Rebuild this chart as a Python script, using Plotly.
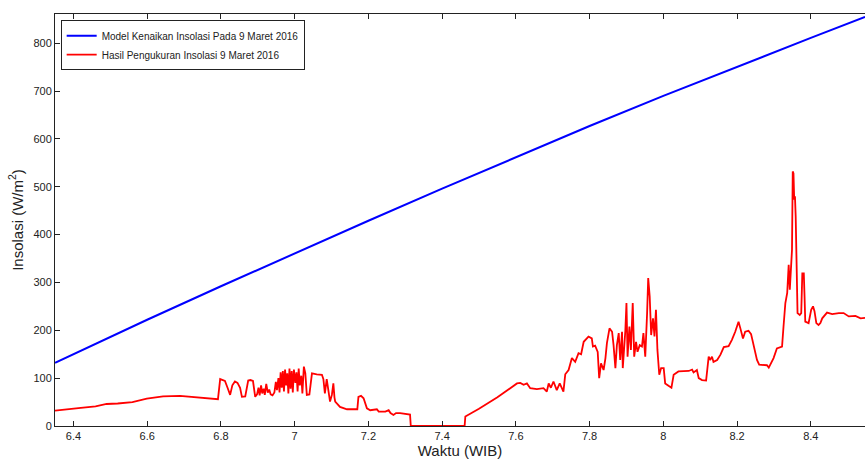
import plotly.graph_objects as go

# Model curve (blue)
model_t = [6.35, 6.60, 6.80, 7.00, 7.20, 7.40, 7.60, 7.80, 8.00, 8.20, 8.40, 8.547]
model_v = [132, 222, 292, 361, 429, 496, 562, 627, 690, 751, 811, 855]

# Measured insolation (red)
meas_t = [6.350, 6.380, 6.420, 6.460, 6.490, 6.520, 6.560, 6.599, 6.643, 6.689, 6.720, 6.752, 6.780, 6.792,
          6.798, 6.805, 6.811, 6.818, 6.825, 6.831, 6.838, 6.845, 6.852, 6.857, 6.866, 6.874, 6.880, 6.887,
          6.893, 6.898, 6.902, 6.905, 6.909, 6.912, 6.916, 6.919, 6.923, 6.927, 6.931, 6.935, 6.940, 6.945,
          6.949, 6.952, 6.956, 6.959, 6.962, 6.965, 6.968, 6.971, 6.974, 6.977, 6.980, 6.983, 6.986, 6.989,
          6.992, 6.995, 6.998, 7.002, 7.005, 7.008, 7.011, 7.014, 7.018, 7.021, 7.025, 7.029, 7.033, 7.040,
          7.047, 7.060, 7.074, 7.078, 7.082, 7.087, 7.092, 7.096, 7.101, 7.105, 7.108, 7.110, 7.123, 7.142,
          7.157, 7.170, 7.173, 7.180, 7.187, 7.196, 7.205, 7.214, 7.223, 7.228, 7.232, 7.246, 7.255, 7.260,
          7.268, 7.275, 7.286, 7.293, 7.300, 7.313, 7.315, 7.461, 7.463, 7.500, 7.550, 7.603, 7.612, 7.621,
          7.630, 7.639, 7.657, 7.675, 7.684, 7.689, 7.695, 7.702, 7.711, 7.719, 7.729, 7.734, 7.743, 7.752,
          7.761, 7.770, 7.777, 7.784, 7.797, 7.806, 7.809, 7.815, 7.822, 7.826, 7.831, 7.838, 7.843, 7.847,
          7.854, 7.861, 7.865, 7.870, 7.874, 7.879, 7.883, 7.888, 7.890, 7.897, 7.900, 7.903, 7.908, 7.912,
          7.917, 7.921, 7.926, 7.930, 7.936, 7.942, 7.946, 7.951, 7.956, 7.959, 7.963, 7.967, 7.972, 7.976,
          7.980, 7.984, 7.989, 7.994, 8.001, 8.005, 8.014, 8.022, 8.028, 8.041, 8.069, 8.078, 8.082, 8.091,
          8.096, 8.105, 8.116, 8.123, 8.127, 8.132, 8.136, 8.146, 8.155, 8.164, 8.177, 8.186, 8.195, 8.204,
          8.209, 8.216, 8.222, 8.231, 8.238, 8.245, 8.254, 8.260, 8.272, 8.281, 8.286, 8.292, 8.299, 8.308,
          8.322, 8.326, 8.331, 8.336, 8.340, 8.343, 8.346, 8.349, 8.351, 8.353, 8.355, 8.357, 8.359, 8.361,
          8.364, 8.370, 8.374, 8.377, 8.381, 8.383, 8.385, 8.394, 8.401, 8.406, 8.410, 8.415, 8.421, 8.426,
          8.431, 8.444, 8.458, 8.476, 8.489, 8.503, 8.521, 8.535, 8.547]
meas_v = [32, 35, 38, 41, 46, 47, 50, 57, 62, 63, 61, 59, 56, 56,
          98, 96, 94, 80, 65, 85, 93, 90, 80, 61, 62, 95, 96, 94,
          61, 66, 80, 64, 85, 68, 78, 65, 88, 70, 76, 66, 64, 70,
          92, 75, 100, 70, 112, 80, 115, 72, 118, 85, 110, 68, 120, 78,
          115, 70, 118, 90, 112, 72, 120, 85, 105, 68, 124, 110, 65, 66,
          110, 108, 107, 98, 68, 98, 70, 51, 65, 89, 60, 51, 40, 35,
          35, 35, 61, 63, 58, 37, 33, 34, 35, 30, 30, 30, 33, 27,
          23, 27, 27, 26, 25, 24, 0, 0, 20, 36, 60, 89, 90, 86,
          89, 79, 77, 79, 72, 89, 80, 93, 75, 89, 72, 108, 117, 142,
          134, 152, 150, 176, 187, 183, 166, 168, 155, 100, 131, 117, 142, 173,
          204, 197, 169, 121, 169, 194, 138, 197, 121, 200, 257, 145, 208, 159,
          257, 145, 176, 155, 169, 166, 194, 145, 236, 309, 271, 190, 225, 187,
          243, 159, 107, 121, 121, 89, 84, 80, 107, 114, 115, 118, 112, 117,
          100, 96, 95, 145, 138, 145, 134, 138, 149, 165, 167, 180, 197, 218,
          204, 183, 197, 199, 192, 166, 138, 128, 128, 127, 122, 130, 142, 162,
          166, 208, 257, 278, 337, 285, 333, 368, 532, 528, 473, 480, 438, 375,
          236, 232, 236, 319, 319, 271, 218, 215, 243, 250, 240, 215, 211, 215,
          225, 237, 234, 236, 236, 229, 230, 225, 226]

x_ticks = [6.4, 6.6, 6.8, 7.0, 7.2, 7.4, 7.6, 7.8, 8.0, 8.2, 8.4]
x_ticklabels = ["6.4", "6.6", "6.8", "7", "7.2", "7.4", "7.6", "7.8", "8", "8.2", "8.4"]
y_ticks = [0, 100, 200, 300, 400, 500, 600, 700, 800]

fig = go.Figure()
fig.add_trace(go.Scatter(x=model_t, y=model_v, mode="lines",
                         line=dict(color="#0000ff", width=2),
                         name="Model Kenaikan Insolasi Pada 9 Maret 2016"))
fig.add_trace(go.Scatter(x=meas_t, y=meas_v, mode="lines",
                         line=dict(color="#ff0000", width=1.8),
                         name="Hasil Pengukuran Insolasi 9 Maret 2016"))

font_family = "Liberation Sans, Arial, sans-serif"
fig.update_layout(
    width=865, height=459,
    margin=dict(l=55, r=0, t=14, b=33),
    paper_bgcolor="white", plot_bgcolor="white",
    font=dict(family=font_family, size=11, color="#222222"),
    showlegend=True,
    legend=dict(x=0.007, y=0.985, xanchor="left", yanchor="top",
                bgcolor="white", bordercolor="#222222", borderwidth=1,
                font=dict(size=10, color="#222222"),
                tracegroupgap=0, itemwidth=30),
    xaxis=dict(range=[6.35, 8.547], tickvals=x_ticks, ticktext=x_ticklabels,
               showgrid=False, zeroline=False, showline=True, linecolor="#222222",
               linewidth=1, mirror="ticks", ticks="inside", ticklen=5,
               tickcolor="#222222",
               title=dict(text="Waktu (WIB)", font=dict(size=15, color="#222222"), standoff=4)),
    yaxis=dict(range=[0, 861], tickvals=y_ticks,
               showgrid=False, zeroline=False, showline=True, linecolor="#222222",
               linewidth=1, ticks="inside", ticklen=5, tickcolor="#222222",
               title=dict(text="Insolasi (W/m<sup>2</sup>)", font=dict(size=15, color="#222222"), standoff=6)),
)

fig.write_html("out.html")
